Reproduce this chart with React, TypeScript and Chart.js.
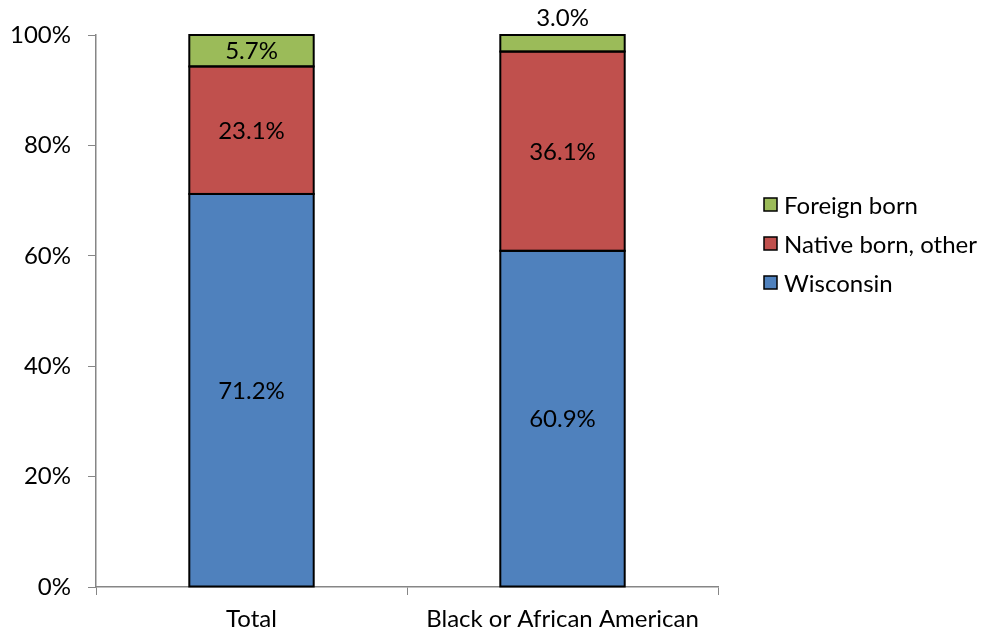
import React, { useEffect, useRef } from "react";
import { Chart, registerables } from "chart.js";

Chart.register(...registerables);

const categories = ["Total", "Black or African American"];
const seriesNames = ["Wisconsin", "Native born, other", "Foreign born"];
const wisconsin = [71.2, 60.9];
const nativeOther = [23.1, 36.1];
const foreignBorn = [5.7, 3.0];
const yTicks = [0, 20, 40, 60, 80, 100];
const colors = ["#4F81BD", "#C0504D", "#9BBB59"];

const FONT = "Lato, 'Open Sans', sans-serif";
const FS = 24;

const labelPlugin = {
  id: "segLabels",
  afterDatasetsDraw(chart: any) {
    const ctx = chart.ctx;
    ctx.save();
    // outlines
    ctx.strokeStyle = "#000";
    ctx.lineWidth = 2;
    chart.data.datasets.forEach((ds: any, di: number) => {
      const meta = chart.getDatasetMeta(di);
      meta.data.forEach((bar: any) => {
        const top = Math.min(bar.y, bar.base);
        const bottom = Math.max(bar.y, bar.base);
        const left = bar.x - bar.width / 2;
        ctx.strokeRect(left, top, bar.width, bottom - top);
      });
    });
    ctx.font = `${FS}px ${FONT}`;
    ctx.fillStyle = "#000";
    ctx.textAlign = "center";
    ctx.textBaseline = "middle";
    chart.data.datasets.forEach((ds: any, di: number) => {
      const meta = chart.getDatasetMeta(di);
      meta.data.forEach((bar: any, i: number) => {
        const v = ds.data[i];
        const txt = v.toFixed(1) + "%";
        const top = Math.min(bar.y, bar.base);
        const bottom = Math.max(bar.y, bar.base);
        if (bottom - top < 22) {
          ctx.fillText(txt, bar.x, top - 17);
        } else {
          ctx.fillText(txt, bar.x, (top + bottom) / 2 + 1);
        }
      });
    });
    ctx.restore();
  },
};

const legendPlugin = {
  id: "customLegend",
  afterDraw(chart: any) {
    const ctx = chart.ctx;
    ctx.save();
    ctx.font = `${FS}px ${FONT}`;
    ctx.textBaseline = "middle";
    ctx.textAlign = "left";
    const items = [2, 1, 0];
    const ys = [205, 244, 283];
    items.forEach((di, k) => {
      const y = ys[k];
      ctx.fillStyle = colors[di];
      ctx.fillRect(764, y - 7, 13, 13);
      ctx.strokeStyle = "#000";
      ctx.lineWidth = 1.5;
      ctx.strokeRect(764, y - 7, 13, 13);
      ctx.fillStyle = "#000";
      ctx.fillText(seriesNames[di], 784, y + 1);
    });
    ctx.restore();
  },
};

export default function App() {
  const ref = useRef<HTMLCanvasElement>(null);
  useEffect(() => {
    const data = [wisconsin, nativeOther, foreignBorn];
    const chart = new Chart(ref.current!, {
      type: "bar",
      data: {
        labels: categories,
        datasets: seriesNames.map((name, i) => ({
          label: name,
          data: data[i],
          backgroundColor: colors[i],
          borderWidth: 0,
          categoryPercentage: 1,
          barPercentage: 0.4,
        })),
      },
      options: {
        animation: false,
        responsive: false,
        maintainAspectRatio: false,
        layout: { padding: { left: 0, right: 271, top: 35, bottom: 0 } },
        plugins: { legend: { display: false }, tooltip: { enabled: false } },
        scales: {
          x: {
            stacked: true,
            grid: {
              display: true,
              drawOnChartArea: false,
              drawTicks: true,
              tickLength: 8,
              color: "#868686",
              offset: true,
            },
            border: { display: true, color: "#868686", width: 1.5 },
            ticks: { color: "#000", font: { family: FONT, size: FS }, padding: 10 },
            afterFit(scale: any) {
              scale.height = 45;
            },
          },
          y: {
            stacked: true,
            min: 0,
            max: 100,
            afterBuildTicks(scale: any) {
              scale.ticks = yTicks.map((v) => ({ value: v }));
            },
            grid: {
              display: true,
              drawOnChartArea: false,
              drawTicks: true,
              tickLength: 8,
              color: "#868686",
            },
            border: { display: true, color: "#868686", width: 1.5 },
            ticks: {
              color: "#000",
              font: { family: FONT, size: FS },
              padding: 17,
              callback: (v: any) => v + "%",
            },
            afterFit(scale: any) {
              scale.width = 96;
            },
          },
        },
      },
      plugins: [labelPlugin, legendPlugin],
    });
    return () => chart.destroy();
  }, []);
  return (
    <div style={{ position: "fixed", left: 0, top: 0, width: 989, height: 632, background: "#fff" }}>
      <canvas ref={ref} width={989} height={632} style={{ width: 989, height: 632 }} />
    </div>
  );
}
